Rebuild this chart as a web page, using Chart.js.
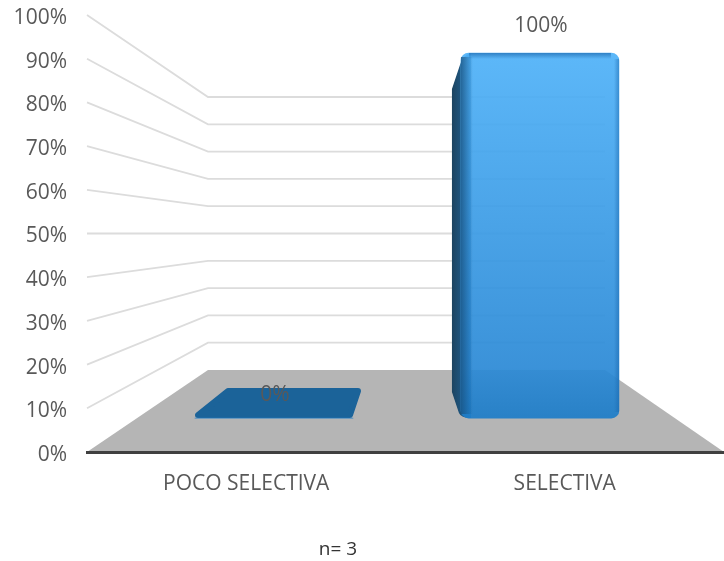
<!DOCTYPE html>
<html>
<head>
<meta charset="utf-8">
<script src="https://cdn.jsdelivr.net/npm/chart.js@4"></script>
<style>
  body { margin: 0; background: #fff; }
  canvas { display: block; }
</style>
</head>
<body>
<canvas id="myChart" width="724" height="561"></canvas>
<script>
const categories = ["POCO SELECTIVA", "SELECTIVA"];
const values = [0, 100];
const valueLabels = ["0%", "100%"];
const note = "n= 3";

const font = "'Open Sans', sans-serif";
const textColor = "#595959";

// back wall of the fake 3d box
const backX = 208;
const backRight = 605;
const backFloorY = 370;
const backPerUnit = 2.73;

const box3d = {
  id: "box3d",
  beforeDraw(chart) {
    const { ctx, scales } = chart;
    const y = scales.y;
    const area = chart.chartArea;
    ctx.save();
    ctx.fillStyle = "#b5b5b5";
    ctx.beginPath();
    ctx.moveTo(area.left, y.getPixelForValue(0));
    ctx.lineTo(backX, backFloorY);
    ctx.lineTo(backRight, backFloorY);
    ctx.lineTo(area.right, y.getPixelForValue(0));
    ctx.closePath();
    ctx.fill();

    ctx.strokeStyle = "#dcdcdc";
    ctx.lineWidth = 1.8;
    y.ticks.forEach(t => {
      if (t.value === 0) return;
      const by = backFloorY - t.value * backPerUnit;
      ctx.beginPath();
      ctx.moveTo(area.left, y.getPixelForValue(t.value));
      ctx.lineTo(backX, by);
      ctx.lineTo(backRight, by);
      ctx.stroke();
    });
    ctx.restore();
  },
  beforeDatasetsDraw(chart) {
    const { ctx } = chart;
    const bars = chart.getDatasetMeta(0).data;
    ctx.save();
    bars.forEach(bar => {
      const left = bar.x - bar.width / 2;
      const right = bar.x + bar.width / 2;
      if (bar.base - bar.y < 1) {
        // empty bar, only its footprint on the floor
        ctx.fillStyle = ctx.strokeStyle = "#1b6399";
        ctx.lineWidth = 6;
        ctx.lineJoin = "round";
        ctx.beginPath();
        ctx.moveTo(left + 3, bar.base - 3);
        ctx.lineTo(left + 33, bar.base - 27);
        ctx.lineTo(right + 5, bar.base - 27);
        ctx.lineTo(right - 3, bar.base - 3);
        ctx.closePath();
        ctx.fill();
        ctx.stroke();
      } else {
        // dark left side of the column
        const g = ctx.createLinearGradient(left - 9, 0, left + 12, 0);
        g.addColorStop(0, "#1d4460");
        g.addColorStop(0.55, "#1f5a88");
        g.addColorStop(1, "#2479bd");
        ctx.fillStyle = g;
        ctx.beginPath();
        ctx.moveTo(left + 10, bar.y);
        ctx.quadraticCurveTo(left + 2, bar.y + 2, left - 1, bar.y + 12);
        ctx.lineTo(left - 9, bar.y + 36);
        ctx.lineTo(left - 9, bar.base - 26);
        ctx.lineTo(left - 2, bar.base - 5);
        ctx.quadraticCurveTo(left, bar.base, left + 10, bar.base);
        ctx.closePath();
        ctx.fill();
      }
    });
    ctx.restore();
  },
  afterDatasetsDraw(chart) {
    const { ctx } = chart;
    const bars = chart.getDatasetMeta(0).data;
    ctx.save();
    bars.forEach((bar, i) => {
      const left = bar.x - bar.width / 2;
      const right = bar.x + bar.width / 2;
      if (bar.base - bar.y >= 1) {
        // shading on the edges of the front face
        let g = ctx.createLinearGradient(left, 0, left + 12, 0);
        g.addColorStop(0, "rgba(24,80,125,0.75)");
        g.addColorStop(1, "rgba(24,80,125,0)");
        ctx.fillStyle = g;
        ctx.fillRect(left, bar.y + 4, 12, bar.base - bar.y - 8);
        g = ctx.createLinearGradient(right - 5, 0, right, 0);
        g.addColorStop(0, "rgba(24,100,170,0)");
        g.addColorStop(1, "rgba(24,100,170,0.5)");
        ctx.fillStyle = g;
        ctx.fillRect(right - 5, bar.y + 6, 5, bar.base - bar.y - 12);
        g = ctx.createLinearGradient(0, bar.y, 0, bar.y + 6);
        g.addColorStop(0, "rgba(24,100,170,0.65)");
        g.addColorStop(1, "rgba(24,100,170,0)");
        ctx.fillStyle = g;
        ctx.fillRect(left + 8, bar.y, bar.width - 16, 6);
      }
      ctx.fillStyle = textColor;
      ctx.font = "21px " + font;
      ctx.textAlign = "center";
      ctx.textBaseline = "middle";
      ctx.fillText(valueLabels[i], bar.x + 1, bar.y - (i === 0 ? 23 : 27));
    });
    ctx.fillStyle = "#333333";
    ctx.font = "19px " + font;
    ctx.textAlign = "center";
    ctx.fillText(note, 338, 550);
    ctx.restore();
  }
};

const ctx = document.getElementById("myChart").getContext("2d");

const barGradient = ctx.createLinearGradient(0, 53, 0, 418);
barGradient.addColorStop(0, "rgba(80,178,248,0.93)");
barGradient.addColorStop(0.86, "rgba(44,138,214,0.93)");
barGradient.addColorStop(1, "rgba(30,125,200,0.93)");

const myChart = new Chart(ctx, {
  type: "bar",
  data: {
    labels: categories,
    datasets: [{
      data: categories.map((c, i) => ({ x: i, y: values[i] })),
      xAxisID: "xBar",
      yAxisID: "yBar",
      backgroundColor: barGradient,
      borderRadius: 8,
      borderSkipped: false,
      barThickness: 158
    }]
  },
  plugins: [box3d],
  options: {
    responsive: false,
    animation: false,
    layout: { padding: { top: 15, left: 0, right: 0, bottom: 0 } },
    plugins: { legend: { display: false }, tooltip: { enabled: false } },
    scales: {
      x: {
        type: "category",
        position: "bottom",
        grid: { display: false, drawTicks: false },
        border: { color: "#404040", width: 3 },
        ticks: { color: textColor, font: { size: 21, family: font }, padding: 19, maxRotation: 0 },
        afterFit(scale) { scale.height = 109; }
      },
      y: {
        type: "linear",
        position: "left",
        min: 0,
        max: 100,
        grid: { display: false, drawTicks: false },
        border: { display: false },
        ticks: {
          stepSize: 10,
          color: textColor,
          font: { size: 21, family: font, lineHeight: "6px" },
          padding: 20,
          // empty first line pushes the text 3px below the tick
          callback: v => ["", v + "%"]
        },
        afterFit(scale) {
          scale.width = 87;
          scale.paddingTop = 0;
          scale.paddingBottom = 0;
        }
      },
      // the columns stand further back than the axes, so they get their own scales
      xBar: { type: "linear", axis: "x", display: false, offset: false, min: -0.703, max: 1.692 },
      yBar: { type: "linear", axis: "y", display: false, min: -9.3, max: 110.4 }
    }
  }
});
</script>
</body>
</html>
